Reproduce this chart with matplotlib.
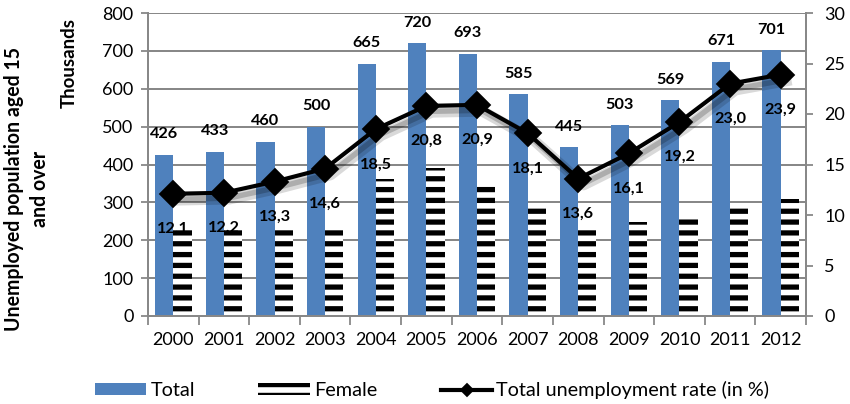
import matplotlib
matplotlib.use("Agg")
import matplotlib.pyplot as plt
import matplotlib.patheffects as pe
from matplotlib.patches import Patch
from matplotlib.lines import Line2D
import numpy as np

years = ["2000", "2001", "2002", "2003", "2004", "2005", "2006",
         "2007", "2008", "2009", "2010", "2011", "2012"]
total = [426, 433, 460, 500, 665, 720, 693, 585, 445, 503, 569, 671, 701]
female = [227, 227, 228, 228, 363, 390, 353, 287, 227, 247, 255, 287, 310]
rate = [12.1, 12.2, 13.3, 14.6, 18.5, 20.8, 20.9, 18.1, 13.6, 16.1, 19.2, 23.0, 23.9]

DPI = 130
plt.rcParams['font.family'] = ['Lato', 'DejaVu Sans']
plt.rcParams['hatch.linewidth'] = 2.9
plt.rcParams['hatch.color'] = 'black'

fig = plt.figure(figsize=(850 / DPI, 404 / DPI), dpi=DPI)
ax = fig.add_axes([148 / 850, 88 / 404, 658 / 850, 303 / 404])
ax2 = ax.twinx()

x = np.arange(len(years))
bw = 0.36
blue = '#4F81BD'
grid_c = '#888888'

ax.bar(x - bw / 2, total, bw, color=blue, zorder=2)
ax.bar(x + bw / 2, female, bw, facecolor='white', edgecolor='black',
       hatch='--', linewidth=0, zorder=2)

for xi, v in zip(x, total):
    ax.annotate(f"{v}", (xi - bw / 2, v), xytext=(0, 11.5), textcoords='offset points',
                ha='center', va='center', fontsize=9, fontweight='bold')

ax.set_xlim(-0.5, len(years) - 0.5)
ax.set_ylim(0, 800)
ax.set_yticks(range(0, 801, 100))
ax.yaxis.grid(True, color=grid_c, linewidth=1.1, zorder=0)
ax.set_axisbelow(True)
ax.set_xticks(x)
ax.set_xticklabels(years, fontsize=10)
ax.set_xticks(np.arange(-0.5, len(years), 1), minor=True)
ax.tick_params(axis='x', which='major', length=0, pad=9)
ax.tick_params(axis='x', which='minor', length=5, color=grid_c, width=1)
ax.tick_params(axis='y', length=4, color=grid_c, width=1, labelsize=10, pad=4)
ax.spines['top'].set_visible(False)
for s in ['left', 'bottom', 'right']:
    ax.spines[s].set_color(grid_c)
    ax.spines[s].set_linewidth(1.1)

ax2.set_ylim(0, 30)
ax2.set_yticks(range(0, 31, 5))
ax2.tick_params(axis='y', length=4, color=grid_c, width=1, labelsize=10, pad=6)
for s in ['top', 'left', 'bottom']:
    ax2.spines[s].set_visible(False)
ax2.spines['right'].set_color(grid_c)
ax2.spines['right'].set_linewidth(1.1)

# soft shadow under the line
ax2.plot(x, rate, color='none', linewidth=2.3, zorder=4,
         path_effects=[pe.SimpleLineShadow(offset=(3, -3.5), alpha=0.15,
                                           shadow_color='black', linewidth=6),
                       pe.SimpleLineShadow(offset=(2.5, -3), alpha=0.2,
                                           shadow_color='black', linewidth=3)])
ax2.plot(x, rate, color='black', linewidth=2.3, marker='D', markersize=10.5,
         markerfacecolor='black', markeredgecolor='black', zorder=5)

for xi, v in zip(x, rate):
    ax2.annotate(f"{v:.1f}".replace('.', ','), (xi, v), xytext=(0, -19.5),
                 textcoords='offset points', ha='center', va='center',
                 fontsize=9, fontweight='bold', zorder=6)

fig.text(27 / 850, 1 - 189 / 404, "Unemployed population aged 15\nand over", rotation=90,
         ha='center', va='center', fontsize=10.8, fontweight='bold', linespacing=1.4)
fig.text(69 / 850, 1 - 63 / 404, "Thousands", rotation=90, ha='center', va='center',
         fontsize=10.3, fontweight='bold')

handles = [Patch(facecolor=blue, edgecolor='none'),
           Patch(facecolor='white', edgecolor='black', hatch='--', linewidth=0),
           Line2D([0], [0], color='black', linewidth=2.3, marker='D', markersize=5)]
labels = ["Total", "Female", "Total unemployment rate (in %)"]
fig.legend(handles, labels, loc='center', bbox_to_anchor=(432 / 850, 1 - 390 / 404),
           ncol=3, frameon=False, fontsize=11, handlelength=2.6, handleheight=0.55,
           columnspacing=3.2, handletextpad=0.2)

fig.savefig("out.png", dpi=DPI)
